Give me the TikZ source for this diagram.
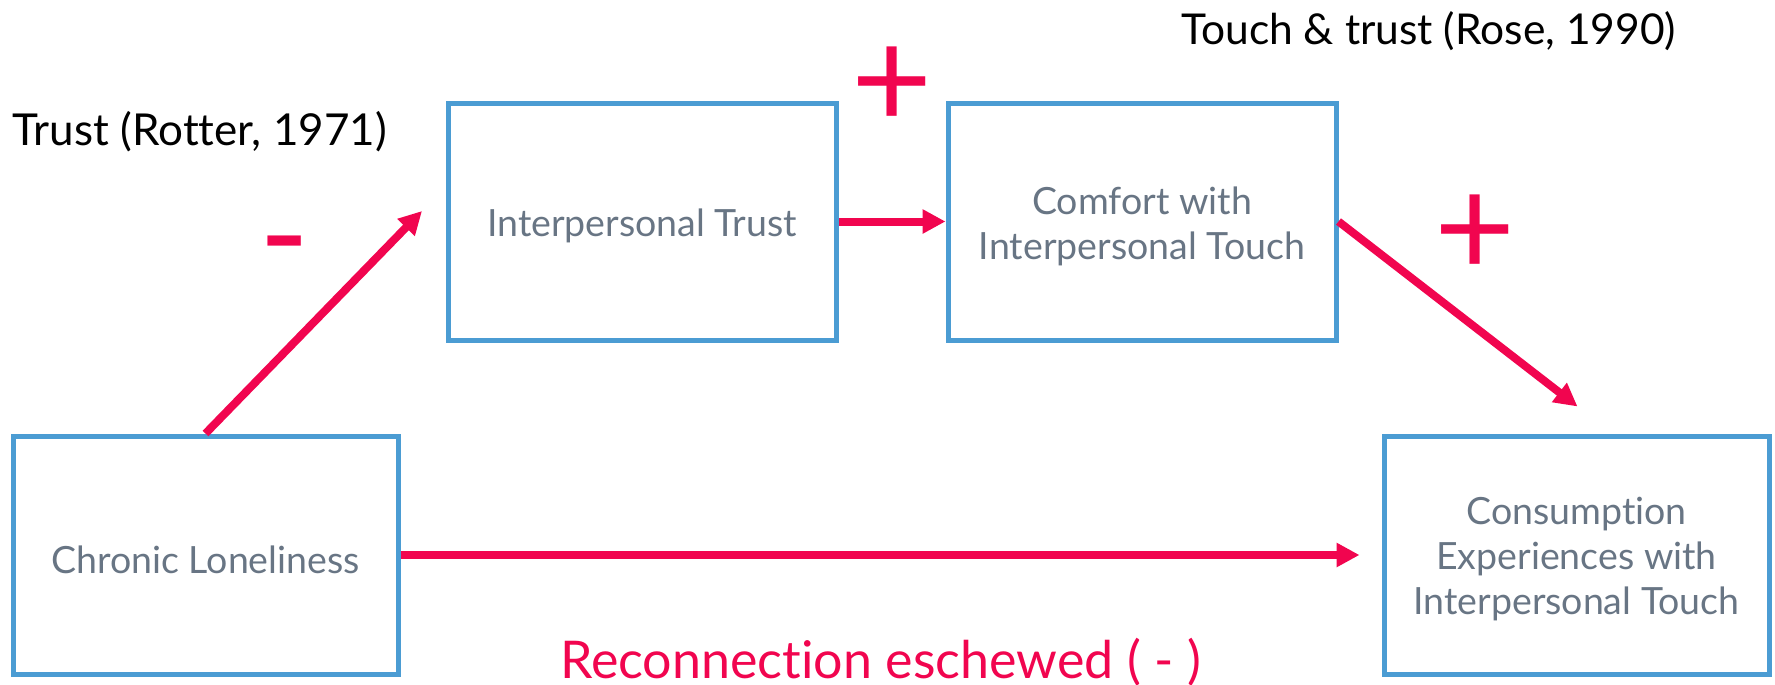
\documentclass[tikz,border=0pt]{standalone}
\usepackage{fontspec}
\setmainfont{Lato}[Ligatures=NoCommon]
\usetikzlibrary{arrows.meta}
\definecolor{pinkred}{HTML}{F1054F}
\definecolor{boxblue}{HTML}{4B9CD3}
\definecolor{boxtext}{HTML}{687584}
\tikzset{
  varbox/.style={draw=boxblue, line width=5pt, rectangle, inner sep=0pt},
  boxlabel/.style={align=center, text=boxtext, inner sep=0pt, yshift=-4.5pt,
    font=\fontsize{37.5}{45}\selectfont},
  pathlink/.style={draw=pinkred, line width=8pt,
    -{Triangle[length=23pt,width=23pt]}},
  signlabel/.style={text=pinkred, inner sep=0pt},
  reflabel/.style={text=black, inner sep=0pt, anchor=base west},
}
\begin{document}
\begin{tikzpicture}[x=1pt,y=-1pt]
\useasboundingbox (0,0) rectangle (1775,685);
\node[varbox, minimum width=388pt, minimum height=237pt,
  label={[boxlabel, name=itl]center:Interpersonal Trust}] (it) at (642,221.5) {};
\node[varbox, minimum width=388pt, minimum height=237pt,
  label={[boxlabel, name=citl]center:{Comfort with\\Interpersonal Touch}}] (cit) at (1142,221.5) {};
\node[varbox, minimum width=385pt, minimum height=238pt,
  label={[boxlabel, name=cll]center:Chronic Loneliness}] (cl) at (205.5,555) {};
\node[varbox, minimum width=385pt, minimum height=238pt,
  label={[boxlabel, name=cel]center:{Consumption\\Experiences with\\Interpersonal Touch}}] (ce) at (1576.5,555) {};
\coordinate (t1) at (422,211);
\coordinate (t2) at (1577.5,406.5);
\draw[pathlink] (cl.north) -- (t1);
\draw[pathlink] (it.east) -- (cit.west);
\draw[pathlink] (cit.east) -- (t2);
\draw[pathlink, shorten >=22pt] (cl.east) -- (ce.west);
\node[reflabel, font=\fontsize{44}{50}\selectfont] (rotter) at (12.5,145.7) {Trust (Rotter, 1971)};
\node[reflabel, font=\fontsize{42.5}{50}\selectfont] (rose) at (1181,45) {Touch \& trust (Rose, 1990)};
\node[signlabel, anchor=base, font=\fontsize{135}{135}\selectfont] (minus) at (284.5,281) {-};
\node[signlabel, font=\fontsize{140}{140}\selectfont] (plus1) at (892,87.5) {+};
\node[signlabel, font=\fontsize{140}{140}\selectfont] (plus2) at (1475,236) {+};
\node[text=pinkred, inner sep=0pt, anchor=base west, font=\fontsize{52}{60}\selectfont] (recon) at (560,678.3) {Reconnection eschewed ( - )};
\end{tikzpicture}
\end{document}
